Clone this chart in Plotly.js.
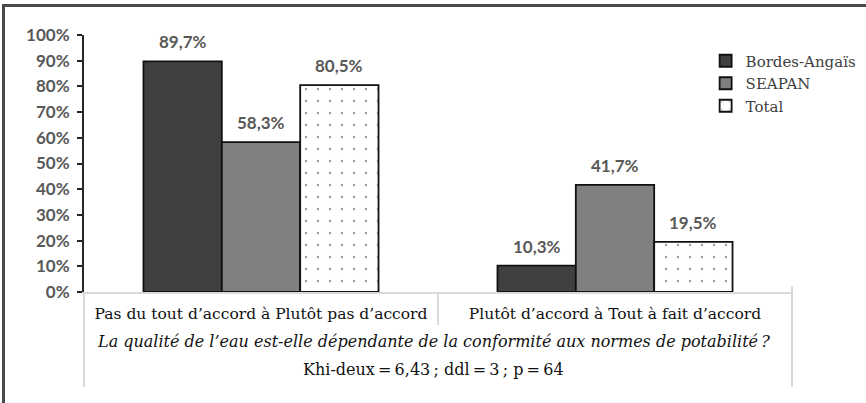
<!DOCTYPE html>
<html>
<head>
<meta charset="utf-8">
<script src="https://cdn.plot.ly/plotly-3.0.1.min.js"></script>
<style>
  html, body { margin: 0; padding: 0; background: #fff; }
  #wrap { position: relative; width: 866px; height: 403px; overflow: hidden; }
  #chart { width: 866px; height: 403px; }
  #frame { position: absolute; left: 2px; top: 4px; width: 900px; height: 450px;
           border-left: 3px solid #4a4a4a; border-top: 3px solid #4a4a4a; pointer-events: none; }
</style>
</head>
<body>
<div id="wrap">
  <div id="chart"></div>
  <div id="frame"></div>
</div>
<script>
const categories = ["Pas du tout d\u2019accord à Plutôt pas d\u2019accord", "Plutôt d\u2019accord à Tout à fait d\u2019accord"];
const seriesNames = ["Bordes-Angaïs", "SEAPAN", "Total"];
const bordesAngais = [89.7, 10.3];
const seapan = [58.3, 41.7];
const total = [80.5, 19.5];
const yTickValues = [0, 10, 20, 30, 40, 50, 60, 70, 80, 90, 100];
const questionText = "La qualité de l\u2019eau est-elle dépendante de la conformité aux normes de potabilité\u2009?";
const statsText = "Khi-deux\u2009=\u20096,43\u2009; ddl\u2009=\u20093\u2009; p\u2009=\u200964";

const labelFont = { family: "Lato, 'Open Sans', sans-serif", size: 17, color: "#595959", weight: "bold" };
const serif = "'DejaVu Serif', serif";

function barTrace(name, values, color, pattern) {
  const t = {
    type: "bar",
    name: name,
    x: categories,
    y: values,
    marker: { color: color, line: { color: "#111", width: 1.8 } },
    hoverinfo: "skip"
  };
  if (pattern) t.marker.pattern = pattern;
  return t;
}

const allSeries = [bordesAngais, seapan, total];
const data = [
  barTrace(seriesNames[0], bordesAngais, "#404040"),
  barTrace(seriesNames[1], seapan, "#808080"),
  barTrace(seriesNames[2], total, "#ffffff", { shape: ".", fgcolor: "#9a9a9a", bgcolor: "#ffffff", size: 12, solidity: 0.03, fillmode: "replace" })
];

const margin = { l: 84, r: 74, t: 35, b: 111, autoexpand: false };
const W = 866, H = 403;
const bargap = 0.336;
const plotW = W - margin.l - margin.r;
const barW = plotW / categories.length * (1 - bargap) / allSeries.length;

// value labels anchored to data coordinates, offset to each bar of the group
const valueLabels = [];
allSeries.forEach((vals, si) => {
  vals.forEach((v, ci) => {
    valueLabels.push({
      xref: "x", yref: "y", x: categories[ci], y: v,
      xshift: (si - 1) * barW, yshift: 7,
      xanchor: "center", yanchor: "bottom", showarrow: false,
      text: v.toFixed(1).replace(".", ",") + "%",
      font: labelFont
    });
  });
});

const gray = "#d9d9d9";
const layout = {
  width: W, height: H,
  margin: margin,
  paper_bgcolor: "#ffffff",
  plot_bgcolor: "#ffffff",
  separators: ", ",
  barmode: "group",
  bargap: bargap,
  bargroupgap: 0,
  showlegend: true,
  legend: {
    x: 0.878, y: 0.963, xanchor: "left", yanchor: "top",
    font: { family: serif, size: 15, color: "#404040" },
    bgcolor: "rgba(0,0,0,0)", itemwidth: 30, tracegroupgap: 0
  },
  xaxis: {
    type: "category",
    showline: true, linecolor: gray, linewidth: 2,
    ticks: "", showgrid: false, zeroline: false,
    tickfont: { family: serif, size: 15.5, color: "#111" },
    ticklabelstandoff: 6
  },
  yaxis: {
    range: [0, 100],
    tickmode: "array",
    tickvals: yTickValues,
    ticktext: yTickValues.map(v => v + "%"),
    showline: true, linecolor: "#262626", linewidth: 2,
    ticks: "outside", ticklen: 5, tickwidth: 2, tickcolor: "#262626",
    showgrid: false, zeroline: false,
    tickfont: labelFont,
    ticklabelstandoff: 4
  },
  shapes: [
    { type: "line", xref: "paper", yref: "paper", x0: 0, x1: 0, y0: 0, y1: -0.37, line: { color: gray, width: 2 } },
    { type: "line", xref: "paper", yref: "paper", x0: 0.5, x1: 0.5, y0: 0, y1: -0.128, line: { color: gray, width: 2 } },
    { type: "line", xref: "paper", yref: "paper", x0: 1, x1: 1, y0: 0.023, y1: -0.37, line: { color: gray, width: 2 } }
  ],
  annotations: valueLabels.concat([
    { xref: "paper", yref: "paper", x: 0.494, y: -0.194, xanchor: "center", yanchor: "middle", showarrow: false,
      text: "<i>" + questionText + "</i>", font: { family: serif, size: 16, color: "#111" } },
    { xref: "paper", yref: "paper", x: 0.494, y: -0.30, xanchor: "center", yanchor: "middle", showarrow: false,
      text: statsText, font: { family: serif, size: 16, color: "#111" } }
  ])
};

Plotly.newPlot("chart", data, layout, { staticPlot: true, displayModeBar: false });
</script>
</body>
</html>
